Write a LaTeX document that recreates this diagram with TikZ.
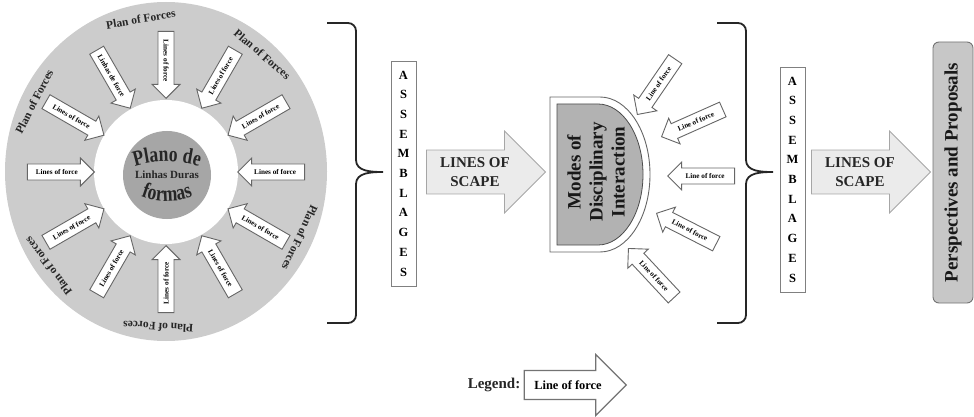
\documentclass[tikz,border=0pt]{standalone}
\usepackage{fontspec}
\setmainfont{Liberation Serif}
\newfontfamily\narrowfont[FakeStretch=0.8]{Liberation Serif}
\usetikzlibrary{shapes.arrows,calc,decorations.text}
\tikzstyle{force}=[single arrow,draw=black!60,fill=white,line width=0.9pt,inner xsep=1.5pt,inner ysep=5pt,single arrow head extend=6pt,minimum height=67pt,anchor=tip,font=\bfseries\fontsize{7.2}{7.2}\selectfont]
\tikzstyle{scape}=[single arrow,draw=black!35,fill=black!8,line width=0.8pt,align=center,inner xsep=4pt,inner ysep=7pt,single arrow head extend=19pt,minimum height=119pt,anchor=tip,text=black!85,font=\bfseries\fontsize{15}{19}\selectfont]
\tikzstyle{letters}=[draw=black!50,fill=white,align=center,line width=0.8pt,minimum height=225pt,minimum width=25pt,inner sep=2pt,font=\bfseries\fontsize{12.5}{19.7}\selectfont]
\tikzstyle{plan}=[text=black!85,font=\bfseries\fontsize{11.5}{12}\selectfont]
\tikzstyle{brace}=[line width=1.8pt,black!85]
\tikzstyle{arched}=[decorate,decoration={text along path,text align=center,text color=black!85}]

\begin{document}
\begin{tikzpicture}[x=1pt,y=1pt]
  \useasboundingbox (0,0) rectangle (974,-417);
  \coordinate (ctr) at (166,-172);
  \fill[black!20] (166,-171.5) ellipse (161 and 169.5);
  \fill[white] (ctr) circle (72);
  \node[circle,fill=black!35,minimum size=88pt,inner sep=0pt,text=black!85,font=\bfseries\fontsize{11}{11}\selectfont] (plano) at (167,-175) {Linhas Duras};
  \path[arched,decoration={text={|\narrowfont\bfseries\fontsize{22}{22}\selectfont|Plano de}}]
    (128,-169) .. controls (150,-159) and (184,-159) .. (206,-169);
  \path[arched,decoration={text={|\narrowfont\bfseries\fontsize{22}{22}\selectfont|formas}}]
    (135,-194) .. controls (155,-204) and (179,-204) .. (199,-194);

  \foreach \a/\txt in {90/Lines of force,120/Linhas de force,150/Lines of force,180/Lines of force,210/Lines of force,240/Lines of force,270/Lines of force}
    \node[force,rotate=\a-180] (lf\a) at ($(ctr)+(\a:71 and 73)$) {\txt};
  \foreach \a in {-60,-30,0,30,60}
    \node[force,rotate=\a,shape border rotate=180] (lf\a) at ($(ctr)+(\a:71 and 73)$) {Lines of force};

  \foreach \a [count=\i] in {99.8,49.4,152.9,-25.2,267,217.3}
    \node[plan,rotate=\a-90] (plan\i) at ($(ctr)+(\a:148 and 155)$) {Plan of Forces};

  \foreach \dx in {0,390}
    \draw[brace] (327+\dx,-23) -- (348+\dx,-23) to[out=0,in=90] (356+\dx,-31) -- (356+\dx,-160)
      to[out=-90,in=180] (383+\dx,-172) to[out=180,in=90] (356+\dx,-184) -- (356+\dx,-315)
      to[out=-90,in=0] (348+\dx,-323) -- (327+\dx,-323);

  \node[letters] (assembl1) at (403.5,-173.5) {A\\S\\S\\E\\M\\B\\L\\A\\G\\E\\S};
  \node[scape] (scape1) at (546,-172) {LINES OF\\SCAPE};

  \draw[black!60,line width=0.9pt,fill=white] (550,-97) -- (600,-97)
    arc[start angle=90,end angle=-90,x radius=50,y radius=77.5] -- (550,-252) -- cycle;
  \draw[black!70,line width=0.8pt,fill=black!30] (557,-104) -- (598,-104)
    arc[start angle=90,end angle=-90,x radius=45,y radius=70.5] -- (557,-245) -- cycle;
  \node[rotate=90,align=center,text=black!90,font=\bfseries\fontsize{19}{22}\selectfont] (modes) at (596,-172) {Modes of\\Disciplinary\\Interaction};

  \node[force,rotate=55.6,shape border rotate=180] (mf1) at (637,-115) {Line of force};
  \node[force,rotate=24,shape border rotate=180] (mf2) at (661,-137) {Line of force};
  \node[force,rotate=0,shape border rotate=180] (mf3) at (667,-176) {Line of force};
  \node[force,rotate=-27,shape border rotate=180] (mf4) at (656,-213) {Line of force};
  \node[force,rotate=-47,shape border rotate=180] (mf5) at (628,-248) {Line of force};

  \node[letters] (assembl2) at (792.5,-179.5) {A\\S\\S\\E\\M\\B\\L\\A\\G\\E\\S};
  \node[scape] (scape2) at (931,-172) {LINES OF\\SCAPE};

  \node[rotate=90,draw=black!55,fill=black!22,line width=0.9pt,rounded corners=6pt,minimum width=261pt,minimum height=40pt,text=black!90,font=\bfseries\fontsize{19}{19}\selectfont] (persp) at (953,-172.5) {Perspectives and Proposals};

  \node[text=black!85,font=\bfseries\fontsize{15}{15}\selectfont] (legend) at (494,-385) {Legend:};
  \node[force,line width=1.1pt,draw=black!55,minimum height=102pt,inner ysep=9.5pt,single arrow head extend=16pt,font=\bfseries\fontsize{12.4}{12.4}\selectfont] (legarrow) at (627,-385) {Line of force};
\end{tikzpicture}
\end{document}
